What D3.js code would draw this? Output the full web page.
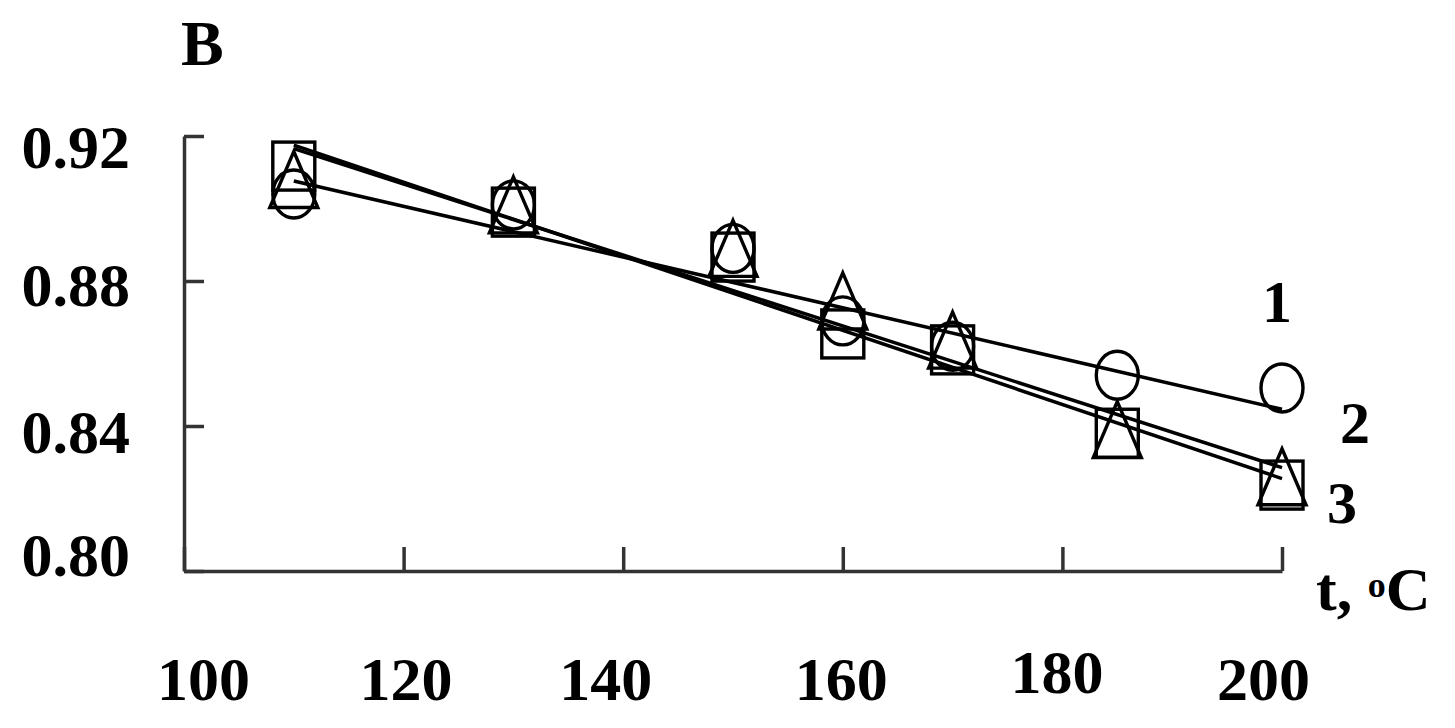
<!DOCTYPE html>
<html>
<head>
<meta charset="utf-8">
<script src="https://cdn.jsdelivr.net/npm/d3@7"></script>
<style>
  html, body { margin: 0; padding: 0; background: #fff; }
  svg { display: block; }
  text { font-family: "Liberation Serif", "DejaVu Serif", serif; font-weight: bold; fill: #000; }
</style>
</head>
<body>
<svg id="chart" width="1455" height="728"></svg>
<script>
// ---- data ----
const temps = [110, 130, 150, 160, 170, 185, 200];
const series1 = [0.904, 0.901, 0.889, 0.869, 0.862, 0.854, 0.8505];   // circles
const series2 = [0.908, 0.901, 0.889, 0.8745, 0.8637, 0.839, 0.826];  // triangles
const series3 = [0.9117, 0.899, 0.8866, 0.8654, 0.861, 0.838, 0.8237]; // squares
const trendX = [110, 200];
const trend1 = [0.9076, 0.8446];
const trend2 = [0.9165, 0.8285];
const trend3 = [0.9175, 0.8255];
const xTicks = [100, 120, 140, 160, 180, 200];
const yTicks = [0.80, 0.84, 0.88, 0.92];
const seriesLabels = ["1", "2", "3"];

// ---- layout ----
const svg = d3.select("#chart");
const x = d3.scaleLinear().domain([100, 200]).range([184, 1282]);
const y = d3.scaleLinear().domain([0.80, 0.92]).range([571, 136]);

// axes
const yAxis = d3.axisLeft(y).tickValues(yTicks).tickSizeInner(-20).tickSizeOuter(0)
  .tickPadding(54).tickFormat(d3.format(".2f"));
const gy = svg.append("g").attr("transform", `translate(${x(100)},0)`).call(yAxis);
const yNudge = [4, 26, 24, 31];
gy.selectAll(".tick text").attr("dy", null).attr("y", (d, i) => yNudge[i])
  .style("font-size", "62px").style("font-family", "Liberation Serif").style("font-weight", "bold");

const xAxis = d3.axisBottom(x).tickValues(xTicks).tickSizeInner(-24).tickSizeOuter(0)
  .tickPadding(0).tickFormat(d3.format("d"));
const gx = svg.append("g").attr("transform", `translate(0,${y(0.80)})`).call(xAxis);
const xNudge = [19, 2, -18, -2, -6, -19];
const xBase = [129, 129, 129, 129, 122, 129];
gx.selectAll(".tick text").attr("dy", null).attr("y", (d, i) => xBase[i]).attr("x", (d, i) => xNudge[i])
  .style("font-size", "62px").style("font-family", "Liberation Serif").style("font-weight", "bold");

[gx, gy].forEach(g => {
  g.select(".domain").attr("stroke", "#333").attr("stroke-width", 3.5);
  g.selectAll(".tick line").attr("stroke", "#333").attr("stroke-width", 3.5);
});

// trend lines
const line = d3.line().x(d => x(d[0])).y(d => y(d[1]));
[trend1, trend2, trend3].forEach(t => {
  svg.append("path")
    .datum(trendX.map((tx, i) => [tx, t[i]]))
    .attr("d", line)
    .attr("fill", "none").attr("stroke", "#000").attr("stroke-width", 3.5);
});

// markers
const mk = svg.append("g").attr("fill", "none").attr("stroke", "#000").attr("stroke-width", 3.4);
mk.selectAll("rect").data(temps.map((t, i) => [t, series3[i]])).join("rect")
  .attr("x", d => x(d[0]) - 21).attr("y", d => y(d[1]) - 24)
  .attr("width", 42).attr("height", 48);
mk.selectAll("ellipse").data(temps.map((t, i) => [t, series1[i]])).join("ellipse")
  .attr("cx", d => x(d[0])).attr("cy", d => y(d[1])).attr("rx", 21).attr("ry", 24);
mk.selectAll("path").data(temps.map((t, i) => [t, series2[i]])).join("path")
  .attr("d", d => {
    const cx = x(d[0]), cy = y(d[1]);
    return `M${cx},${cy - 28}L${cx + 24},${cy + 28}L${cx - 24},${cy + 28}Z`;
  });

// series labels
const labelPos = [[1262, 322], [1340, 443], [1327, 523]];
svg.selectAll("text.slabel").data(seriesLabels).join("text").attr("class", "slabel")
  .attr("x", (d, i) => labelPos[i][0]).attr("y", (d, i) => labelPos[i][1])
  .style("font-size", "60px").text(d => d);

// panel letter
svg.append("text").attr("x", 181).attr("y", 65).style("font-size", "64px").text("B");

// x-axis title
const tt = svg.append("text").attr("x", 1316).attr("y", 610).style("font-size", "62px");
tt.append("tspan").text("t, ");
tt.append("tspan").attr("dy", -13).style("font-size", "36px").text("o");
tt.append("tspan").attr("dy", 13).text("C");
</script>
</body>
</html>
